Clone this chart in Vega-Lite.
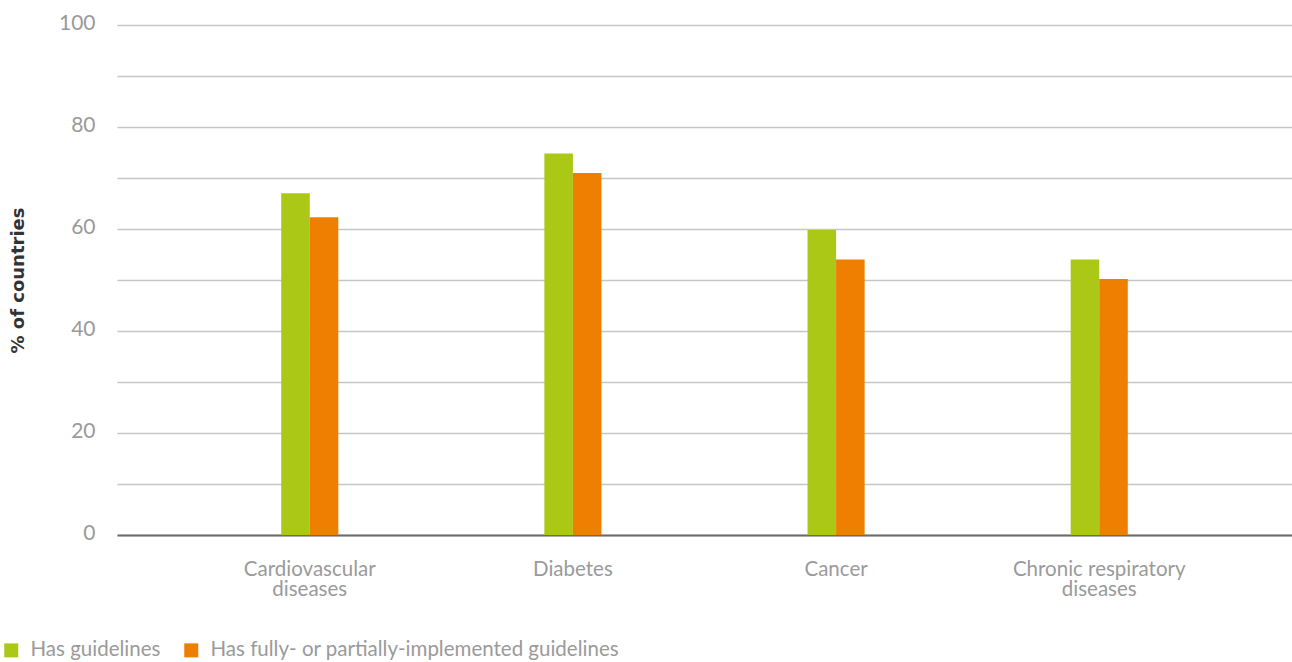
{
  "$schema": "https://vega.github.io/schema/vega-lite/v6.json",
  "autosize": {"type": "none"},
  "width": 1175,
  "height": 510,
  "padding": {"left": 117, "top": 25, "right": 0, "bottom": 127},
  "background": "white",
  "config": {
    "font": "Lato",
    "view": {"stroke": null}
  },
  "data": {
    "values": [
      {"disease": "Cardiovascular diseases", "series": "Has guidelines", "pct": 67},
      {"disease": "Cardiovascular diseases", "series": "Has fully- or partially-implemented guidelines", "pct": 62.3},
      {"disease": "Diabetes", "series": "Has guidelines", "pct": 74.8},
      {"disease": "Diabetes", "series": "Has fully- or partially-implemented guidelines", "pct": 71},
      {"disease": "Cancer", "series": "Has guidelines", "pct": 59.8},
      {"disease": "Cancer", "series": "Has fully- or partially-implemented guidelines", "pct": 54},
      {"disease": "Chronic respiratory diseases", "series": "Has guidelines", "pct": 54},
      {"disease": "Chronic respiratory diseases", "series": "Has fully- or partially-implemented guidelines", "pct": 50.2}
    ]
  },
  "mark": {"type": "bar"},
  "encoding": {
    "x": {
      "field": "disease",
      "type": "nominal",
      "sort": ["Cardiovascular diseases", "Diabetes", "Cancer", "Chronic respiratory diseases"],
      "scale": {"paddingInner": 0.783, "paddingOuter": 0.624},
      "axis": {
        "title": null,
        "labelAngle": 0,
        "labelFontSize": 20.5,
        "labelColor": "#9a9a9a",
        "labelPadding": 24,
        "labelLineHeight": 20,
        "labelBaseline": "top",
        "ticks": false,
        "domainColor": "#6b6b6b",
        "domainWidth": 2,
        "labelExpr": "datum.value == 'Cardiovascular diseases' ? ['Cardiovascular', 'diseases'] : datum.value == 'Chronic respiratory diseases' ? ['Chronic respiratory', 'diseases'] : datum.value"
      }
    },
    "xOffset": {
      "field": "series",
      "type": "nominal",
      "sort": ["Has guidelines", "Has fully- or partially-implemented guidelines"],
      "scale": {"paddingInner": 0, "paddingOuter": 0}
    },
    "y": {
      "field": "pct",
      "type": "quantitative",
      "scale": {"domain": [0, 100], "nice": false},
      "axis": {
        "title": "% of countries",
        "titleFont": "DejaVu Sans",
        "titleFontSize": 18,
        "titleFontWeight": "bold",
        "titleColor": "#333333",
        "titleX": -99,
        "titleY": 255,
        "titleAlign": "center",
        "titleBaseline": "middle",
        "values": [0, 10, 20, 30, 40, 50, 60, 70, 80, 90, 100],
        "labelExpr": "datum.value % 20 == 0 ? datum.label : ''",
        "labelFontSize": 21,
        "labelColor": "#9a9a9a",
        "labelPadding": 22,
        "labelOffset": -2,
        "ticks": false,
        "domain": false,
        "gridColor": "#c6c6c6",
        "gridWidth": 1.3
      }
    },
    "color": {
      "field": "series",
      "type": "nominal",
      "scale": {
        "domain": ["Has guidelines", "Has fully- or partially-implemented guidelines"],
        "range": ["#aac815", "#ef7f00"]
      },
      "legend": {
        "title": null,
        "orient": "none",
        "direction": "horizontal",
        "legendX": -116,
        "legendY": 615,
        "symbolType": "square",
        "symbolSize": 196,
        "symbolStrokeWidth": 0,
        "labelFontSize": 20.5,
        "labelColor": "#9a9a9a",
        "labelOffset": 9,
        "columnPadding": 20,
        "labelLimit": 600
      }
    }
  }
}
